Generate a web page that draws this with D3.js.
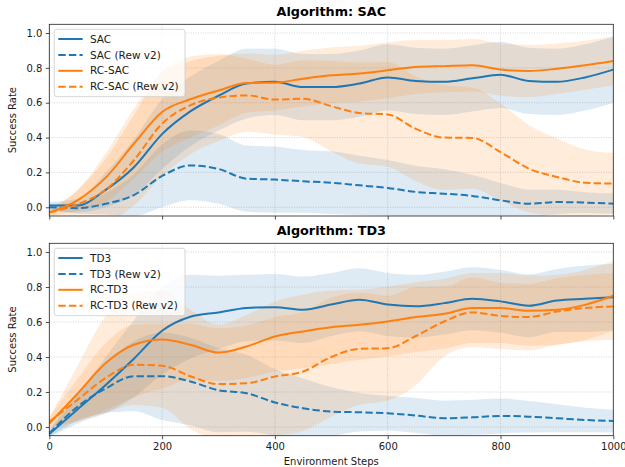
<!DOCTYPE html>
<html>
<head>
<meta charset="utf-8">
<script src="https://cdn.jsdelivr.net/npm/d3@7"></script>
<style>
  html, body { margin: 0; padding: 0; background: #fff; }
  svg { display: block; font-family: "DejaVu Sans", sans-serif; }
</style>
</head>
<body>
<svg id="chart" width="625" height="467"></svg>
<script>
// ---------------- data ----------------
const steps = [0,50,100,150,200,250,300,350,400,450,500,550,600,650,700,750,800,850,900,950,1000];
const xTicks = [0,200,400,600,800,1000];
const yTicks = [0.0,0.2,0.4,0.6,0.8,1.0];

// Panel 1: SAC
const sacMean   = [0.01,0.01,0.10,0.23,0.42,0.55,0.64,0.71,0.72,0.69,0.69,0.71,0.745,0.725,0.72,0.74,0.76,0.725,0.72,0.745,0.79];
const sacStd    = [0.02,0.04,0.10,0.16,0.20,0.20,0.20,0.20,0.19,0.19,0.19,0.19,0.19,0.19,0.19,0.19,0.19,0.19,0.19,0.19,0.19];
const sacV2Mean = [0.0,-0.005,0.02,0.07,0.18,0.24,0.22,0.164,0.159,0.149,0.141,0.126,0.111,0.088,0.078,0.065,0.04,0.021,0.03,0.027,0.021];
const sacV2Std  = [0.02,0.03,0.06,0.12,0.18,0.20,0.20,0.19,0.19,0.18,0.18,0.17,0.16,0.15,0.14,0.12,0.10,0.08,0.07,0.06,0.06];
const rcSacMean = [-0.03,0.04,0.17,0.365,0.547,0.62,0.67,0.713,0.715,0.738,0.757,0.767,0.786,0.805,0.81,0.815,0.79,0.782,0.795,0.815,0.84];
const rcSacStd  = [0.02,0.06,0.14,0.20,0.23,0.22,0.20,0.17,0.16,0.16,0.16,0.16,0.16,0.155,0.15,0.15,0.15,0.15,0.145,0.14,0.14];
const rcSacV2Mean = [-0.03,0.017,0.10,0.27,0.48,0.585,0.63,0.642,0.618,0.623,0.58,0.541,0.533,0.45,0.40,0.398,0.317,0.222,0.174,0.141,0.136];
const rcSacV2Std  = [0.02,0.08,0.18,0.26,0.30,0.28,0.25,0.21,0.20,0.22,0.26,0.29,0.30,0.30,0.30,0.29,0.28,0.25,0.22,0.19,0.175];

// Panel 2: TD3
const td3Mean   = [-0.04,0.10,0.24,0.39,0.55,0.63,0.655,0.68,0.685,0.67,0.70,0.727,0.70,0.69,0.708,0.733,0.718,0.693,0.723,0.733,0.742];
const td3Std    = [0.02,0.08,0.16,0.22,0.25,0.24,0.21,0.19,0.19,0.19,0.18,0.18,0.18,0.18,0.18,0.18,0.18,0.18,0.18,0.19,0.19];
const td3V2Mean = [-0.036,0.116,0.22,0.29,0.29,0.26,0.21,0.193,0.14,0.107,0.088,0.084,0.078,0.065,0.05,0.055,0.063,0.059,0.05,0.04,0.034];
const td3V2Std  = [0.02,0.08,0.14,0.20,0.25,0.25,0.24,0.22,0.19,0.17,0.14,0.11,0.10,0.10,0.10,0.10,0.10,0.09,0.08,0.07,0.065];
const rcTd3Mean = [0.02,0.19,0.365,0.47,0.50,0.47,0.425,0.46,0.517,0.546,0.57,0.584,0.603,0.628,0.647,0.68,0.68,0.664,0.67,0.698,0.75];
const rcTd3Std  = [0.03,0.16,0.27,0.30,0.28,0.20,0.16,0.18,0.20,0.21,0.21,0.20,0.20,0.20,0.20,0.20,0.20,0.20,0.20,0.20,0.20];
const rcTd3V2Mean = [0.03,0.155,0.28,0.355,0.35,0.29,0.245,0.25,0.288,0.317,0.40,0.447,0.45,0.52,0.603,0.655,0.635,0.628,0.66,0.68,0.689];
const rcTd3V2Std  = [0.03,0.12,0.20,0.23,0.24,0.30,0.32,0.33,0.34,0.34,0.34,0.32,0.30,0.28,0.20,0.20,0.19,0.19,0.19,0.19,0.19];

const panels = [
  { title: "Algorithm: SAC", top: 24.3, bottom: 216, xLabels: false,
    series: [
      { name: "SAC", mean: sacMean, std: sacStd, color: "#1f77b4", dashed: false },
      { name: "SAC (Rew v2)", mean: sacV2Mean, std: sacV2Std, color: "#1f77b4", dashed: true },
      { name: "RC-SAC", mean: rcSacMean, std: rcSacStd, color: "#ff7f0e", dashed: false },
      { name: "RC-SAC (Rew v2)", mean: rcSacV2Mean, std: rcSacV2Std, color: "#ff7f0e", dashed: true }
    ] },
  { title: "Algorithm: TD3", top: 243.3, bottom: 435.7, xLabels: true,
    series: [
      { name: "TD3", mean: td3Mean, std: td3Std, color: "#1f77b4", dashed: false },
      { name: "TD3 (Rew v2)", mean: td3V2Mean, std: td3V2Std, color: "#1f77b4", dashed: true },
      { name: "RC-TD3", mean: rcTd3Mean, std: rcTd3Std, color: "#ff7f0e", dashed: false },
      { name: "RC-TD3 (Rew v2)", mean: rcTd3V2Mean, std: rcTd3V2Std, color: "#ff7f0e", dashed: true }
    ] }
];

// ---------------- drawing ----------------
const svg = d3.select("#chart");
const left = 49.3, right = 613.3;
const x = d3.scaleLinear().domain([0, 1000]).range([left, right]);
const textColor = "#1a1a1a";

panels.forEach((p, pi) => {
  const y = d3.scaleLinear().domain([-0.05, 1.05]).range([p.bottom, p.top]);
  const g = svg.append("g");
  const clipId = "clip" + pi;
  svg.append("clipPath").attr("id", clipId).append("rect")
    .attr("x", left).attr("y", p.top).attr("width", right - left).attr("height", p.bottom - p.top);

  // grid
  const grid = g.append("g").attr("stroke", "#b0b0b0").attr("stroke-width", 0.8)
    .attr("stroke-dasharray", "0.8,1.6").attr("opacity", 0.8);
  xTicks.forEach(t => grid.append("line").attr("x1", x(t)).attr("x2", x(t)).attr("y1", p.top).attr("y2", p.bottom));
  yTicks.forEach(t => grid.append("line").attr("x1", left).attr("x2", right).attr("y1", y(t)).attr("y2", y(t)));

  const plot = g.append("g").attr("clip-path", `url(#${clipId})`);
  const area = d3.area().x((d, i) => x(steps[i]))
    .y0(d => y(d[0])).y1(d => y(d[1])).curve(d3.curveMonotoneX);
  const line = d3.line().x((d, i) => x(steps[i])).y(d => y(d)).curve(d3.curveMonotoneX);

  p.series.forEach(s => {
    const band = s.mean.map((m, i) => [m - s.std[i], m + s.std[i]]);
    plot.append("path").attr("d", area(band)).attr("fill", s.color).attr("fill-opacity", 0.15).attr("stroke", "none");
  });
  p.series.forEach(s => {
    plot.append("path").attr("d", line(s.mean)).attr("fill", "none").attr("stroke", s.color)
      .attr("stroke-width", 2).attr("stroke-dasharray", s.dashed ? "7.4,3.2" : null);
  });

  // axes
  const ya = g.append("g").attr("transform", `translate(${left},0)`)
    .call(d3.axisLeft(y).tickValues(yTicks).tickFormat(d3.format(".1f")).tickSizeOuter(0).tickSize(3.5).tickPadding(3.5));
  ya.select(".domain").remove();
  ya.selectAll("text").attr("font-size", "10px").attr("fill", textColor).attr("font-family", "DejaVu Sans");
  ya.selectAll("line").attr("stroke", "#222").attr("stroke-width", 0.8);

  const xa = g.append("g").attr("transform", `translate(0,${p.bottom})`)
    .call(d3.axisBottom(x).tickValues(xTicks).tickFormat(p.xLabels ? d3.format("d") : () => "").tickSizeOuter(0).tickSize(3.5).tickPadding(3.5));
  xa.select(".domain").remove();
  xa.selectAll("text").attr("font-size", "10px").attr("fill", textColor).attr("font-family", "DejaVu Sans");
  xa.selectAll("line").attr("stroke", "#222").attr("stroke-width", 0.8);

  // spines
  g.append("rect").attr("x", left).attr("y", p.top).attr("width", right - left).attr("height", p.bottom - p.top)
    .attr("fill", "none").attr("stroke", "#222").attr("stroke-width", 0.8);

  // title
  g.append("text").attr("x", (left + right) / 2).attr("y", p.top - 8.2).attr("text-anchor", "middle")
    .attr("font-size", "12.8px").attr("font-weight", "bold").attr("fill", "#000").text(p.title);

  // y label
  const cy = (p.top + p.bottom) / 2;
  g.append("text").attr("transform", `translate(16,${cy}) rotate(-90)`).attr("text-anchor", "middle")
    .attr("font-size", "10px").attr("fill", textColor).text("Success Rate");

  // legend
  const lg = g.append("g").attr("transform", `translate(54.3,${p.top + 5})`);
  lg.append("rect").attr("x", 0).attr("y", 0).attr("width", 130.7).attr("height", 67.4).attr("rx", 2.5)
    .attr("fill", "#fff").attr("fill-opacity", 0.8).attr("stroke", "#cccccc").attr("stroke-width", 0.8);
  p.series.forEach((s, i) => {
    const ry = 9.7 + i * 15.9;
    lg.append("line").attr("x1", 4).attr("x2", 28.4).attr("y1", ry).attr("y2", ry)
      .attr("stroke", s.color).attr("stroke-width", 2).attr("stroke-dasharray", s.dashed ? "7.4,3.2" : null);
    lg.append("text").attr("x", 35.7).attr("y", ry).attr("dy", "0.35em").attr("font-size", "10.5px")
      .attr("fill", textColor).text(s.name);
  });
});

svg.append("text").attr("x", (left + right) / 2).attr("y", 465).attr("text-anchor", "middle")
  .attr("font-size", "10px").attr("fill", textColor).text("Environment Steps");
</script>
</body>
</html>
